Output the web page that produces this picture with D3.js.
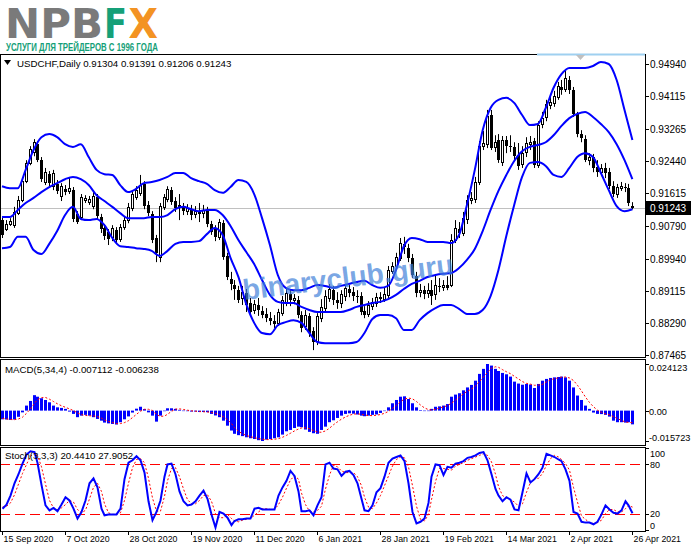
<!DOCTYPE html>
<html><head><meta charset="utf-8">
<script src="https://cdn.jsdelivr.net/npm/d3@7"></script>
<style>html,body{margin:0;padding:0;background:#fff;} svg{display:block;font-family:'Liberation Sans',Arial,sans-serif;}</style>
</head><body><svg id="c" width="691" height="549"></svg>
<script>
// ---------------- DATA ----------------
const symbolTitle = "USDCHF,Daily";
const lastQuote = [0.91304, 0.91391, 0.91206, 0.91243];
const dateLabels = ["15 Sep 2020","7 Oct 2020","28 Oct 2020","19 Nov 2020","11 Dec 2020","6 Jan 2021","28 Jan 2021","19 Feb 2021","14 Mar 2021","2 Apr 2021","26 Apr 2021"];
const dateBars = [0,16,32,48,64,80,96,112,128,144,160];
const priceTicks = [0.94940,0.94115,0.93265,0.92440,0.91615,0.90790,0.89940,0.89115,0.88290,0.87465];
const macdTicks = [0.024123, 0.00, -0.015723];
const stochTicks = [100, 80, 20, 0];
const stochLevels = [80, 20];

// daily candles [open, high, low, close]
const ohlc = [
[.9093,.9101,.9047,.9055],[.9070,.9093,.9065,.9083],[.9083,.9098,.9078,.9091],[.9080,.9127,.9073,.9114],[.9111,.9155,.9106,.9145],
[.9145,.9201,.9139,.9193],[.9193,.9247,.9188,.9240],[.9240,.9283,.9234,.9275],[.9268,.9301,.9257,.9293],[.9288,.9296,.9242,.9247],
[.9247,.9255,.9191,.9198],[.9191,.9227,.9183,.9216],[.9211,.9219,.9180,.9188],[.9180,.9222,.9170,.9214],[.9186,.9196,.9160,.9168],
[.9155,.9188,.9142,.9180],[.9173,.9183,.9157,.9165],[.9168,.9201,.9160,.9175],[.9170,.9178,.9088,.9096],[.9109,.9116,.9083,.9088],
[.9101,.9160,.9093,.9152],[.9145,.9157,.9137,.9150],[.9139,.9155,.9132,.9147],[.9129,.9165,.9121,.9155],[.9152,.9160,.9096,.9103],
[.9101,.9109,.9060,.9070],[.9073,.9080,.9042,.9052],[.9062,.9070,.9029,.9044],[.9050,.9080,.9039,.9073],[.9068,.9075,.9032,.9042],
[.9044,.9083,.9037,.9075],[.9075,.9103,.9068,.9093],[.9093,.9137,.9085,.9127],[.9124,.9170,.9116,.9160],[.9152,.9180,.9145,.9170],
[.9163,.9209,.9155,.9183],[.9186,.9193,.9121,.9129],[.9132,.9142,.9103,.9111],[.9109,.9116,.9034,.9042],[.9047,.9055,.8985,.9009],
[.8998,.9137,.8985,.9129],[.9127,.9160,.9119,.9152],[.9147,.9180,.9139,.9173],[.9170,.9178,.9132,.9139],[.9142,.9152,.9114,.9124],
[.9132,.9160,.9093,.9124],[.9127,.9137,.9106,.9116],[.9116,.9134,.9106,.9124],[.9121,.9132,.9093,.9106],[.9109,.9129,.9098,.9116],
[.9116,.9137,.9088,.9109],[.9111,.9132,.9098,.9119],[.9119,.9127,.9075,.9083],[.9083,.9091,.9055,.9062],[.9070,.9080,.9039,.9050],
[.9050,.9096,.9042,.9088],[.9085,.9093,.8991,.8998],[.9001,.9009,.8939,.8947],[.8942,.8960,.8913,.8929],[.8926,.8939,.8888,.8916],
[.8913,.8924,.8880,.8888],[.8893,.8924,.8875,.8908],[.8906,.8916,.8857,.8875],[.8880,.8893,.8849,.8857],[.8862,.8888,.8852,.8877],
[.8875,.8893,.8847,.8862],[.8859,.8872,.8841,.8849],[.8852,.8867,.8831,.8841],[.8841,.8857,.8823,.8834],[.8834,.8849,.8816,.8826],
[.8829,.8865,.8821,.8857],[.8854,.8898,.8847,.8888],[.8883,.8916,.8872,.8906],[.8903,.8913,.8872,.8888],[.8888,.8903,.8877,.8893],
[.8888,.8898,.8841,.8849],[.8849,.8859,.8805,.8816],[.8821,.8862,.8811,.8849],[.8847,.8854,.8793,.8803],[.8808,.8818,.8759,.8780],
[.8782,.8854,.8772,.8847],[.8841,.8890,.8831,.8870],[.8867,.8913,.8857,.8898],[.8893,.8929,.8883,.8916],[.8913,.8924,.8875,.8888],
[.8888,.8908,.8865,.8880],[.8880,.8913,.8867,.8903],[.8898,.8929,.8885,.8919],[.8916,.8926,.8895,.8906],[.8908,.8921,.8885,.8898],
[.8898,.8913,.8880,.8895],[.8898,.8908,.8849,.8857],[.8859,.8872,.8841,.8849],[.8852,.8885,.8844,.8875],[.8872,.8893,.8862,.8883],
[.8880,.8906,.8870,.8895],[.8895,.8908,.8880,.8890],[.8890,.8919,.8883,.8903],[.8901,.8975,.8893,.8965],[.8962,.8985,.8955,.8975],
[.8975,.9009,.8965,.8998],[.8996,.9047,.8988,.9034],[.9032,.9050,.9006,.9024],[.9021,.9032,.8985,.8996],[.8996,.9006,.8944,.8952],
[.8949,.8960,.8895,.8906],[.8908,.8929,.8895,.8913],[.8913,.8924,.8890,.8903],[.8906,.8931,.8893,.8913],[.8913,.8939,.8875,.8898],
[.8903,.8952,.8888,.8926],[.8924,.8944,.8908,.8921],[.8921,.8939,.8911,.8926],[.8926,.8949,.8913,.8919],[.8926,.9057,.8921,.9042],
[.9042,.9093,.9034,.9073],[.9070,.9088,.9047,.9060],[.9060,.9114,.9052,.9098],[.9096,.9157,.9083,.9145],[.9145,.9165,.9134,.9150],
[.9147,.9204,.9137,.9191],[.9191,.9296,.9183,.9283],[.9283,.9322,.9273,.9291],[.9288,.9376,.9278,.9360],[.9363,.9376,.9273,.9278],
[.9281,.9311,.9268,.9293],[.9299,.9314,.9240,.9247],[.9242,.9309,.9232,.9299],[.9299,.9309,.9265,.9283],[.9283,.9311,.9268,.9281],
[.9281,.9293,.9247,.9257],[.9260,.9291,.9222,.9232],[.9237,.9283,.9227,.9265],[.9268,.9306,.9255,.9291],[.9288,.9309,.9273,.9293],
[.9296,.9304,.9227,.9234],[.9234,.9347,.9227,.9337],[.9340,.9371,.9329,.9355],[.9358,.9402,.9347,.9391],[.9389,.9409,.9378,.9396],
[.9394,.9425,.9384,.9412],[.9409,.9448,.9402,.9438],[.9435,.9453,.9415,.9427],[.9430,.9476,.9422,.9458],[.9453,.9463,.9417,.9427],
[.9427,.9435,.9358,.9366],[.9366,.9371,.9306,.9314],[.9314,.9324,.9293,.9304],[.9301,.9311,.9242,.9247],[.9247,.9265,.9234,.9255],
[.9255,.9263,.9216,.9227],[.9229,.9247,.9204,.9216],[.9216,.9237,.9206,.9227],[.9227,.9240,.9201,.9214],[.9216,.9227,.9173,.9180],
[.9180,.9193,.9152,.9160],[.9160,.9186,.9150,.9178],[.9175,.9191,.9168,.9180],[.9178,.9188,.9165,.9175],[.9175,.9186,.9129,.9137],
[.91304,.91391,.91206,.91243]
];

// Bollinger bands, read every 2nd bar
const bandStep = 2;
const bbUpper = [.9180,.9175,.9175,.9222,.9273,.9306,.9314,.9306,.9288,.9281,
.9288,.9255,.9222,.9211,.9209,.9183,.9165,.9173,.9188,.9191,
.9196,.9204,.9214,.9214,.9201,.9193,.9186,.9170,.9163,.9178,
.9196,.9191,.9160,.9098,.9029,.8952,.8919,.8913,.8913,.8919,
.8926,.8924,.8919,.8924,.8929,.8934,.8937,.8926,.8919,.8924,
.8965,.9026,.9047,.9044,.9037,.9037,.9037,.9034,.9055,.9132,
.9222,.9324,.9381,.9402,.9407,.9394,.9363,.9337,.9340,.9381,
.9433,.9468,.9484,.9484,.9484,.9489,.9499,.9494,.9453,.9376,
.9299];
const bbMiddle = [.9101,.9101,.9119,.9137,.9150,.9165,.9178,.9188,.9198,.9204,
.9198,.9183,.9157,.9142,.9127,.9111,.9098,.9098,.9098,.9101,
.9101,.9106,.9121,.9127,.9121,.9116,.9119,.9119,.9106,.9078,
.9042,.9011,.8980,.8939,.8901,.8883,.8880,.8880,.8870,.8862,
.8857,.8857,.8857,.8857,.8862,.8870,.8875,.8880,.8883,.8890,
.8901,.8916,.8929,.8937,.8947,.8952,.8955,.8957,.8970,.8991,
.9019,.9065,.9119,.9168,.9209,.9245,.9270,.9281,.9286,.9293,
.9311,.9335,.9355,.9366,.9371,.9358,.9340,.9319,.9288,.9247,
.9198];
const bbLower = [.9021,.9024,.9050,.9050,.9016,.9006,.9032,.9065,.9106,.9127,
.9096,.9093,.9096,.9080,.9047,.9026,.9024,.9021,.9019,.9014,
.9001,.9014,.9032,.9037,.9037,.9039,.9057,.9073,.9055,.8996,
.8947,.8877,.8829,.8803,.8800,.8823,.8831,.8836,.8829,.8803,
.8780,.8777,.8777,.8777,.8777,.8780,.8803,.8839,.8849,.8849,
.8841,.8811,.8811,.8836,.8854,.8867,.8875,.8875,.8865,.8852,
.8852,.8862,.8898,.8965,.9052,.9132,.9204,.9240,.9242,.9232,
.9209,.9204,.9227,.9255,.9265,.9255,.9214,.9170,.9129,.9116,
.9121];

// MACD(5,34,4)
const macdMain = [-.0045,-.0046,-.0048,-.0046,-.0032,-.0009,.0026,.0050,.0080,.0072,
.0064,.0055,.0043,.0026,.0017,.0014,.0009,-.0005,-.0017,-.0034,
-.0026,-.0022,-.0026,-.0034,-.0043,-.0052,-.0062,-.0066,-.0069,-.0072,
-.0060,-.0045,-.0030,-.0010,.0010,.0020,.0008,-.0009,-.0026,-.0057,
-.0026,-.0003,.0012,.0012,.0009,.0004,.0000,-.0003,-.0005,-.0005,
-.0007,-.0007,-.0008,-.0017,-.0025,-.0034,-.0052,-.0078,-.0103,-.0120,
-.0127,-.0132,-.0138,-.0143,-.0147,-.0153,-.015723,-.0150,-.0147,-.0143,
-.0138,-.0124,-.0107,-.0100,-.0090,-.0083,-.0086,-.0098,-.0110,-.0117,
-.0120,-.0100,-.0083,-.0060,-.0050,-.0038,-.0026,-.0017,-.0014,-.0016,
-.0020,-.0026,-.0029,-.0026,-.0022,-.0020,-.0012,.0000,.0017,.0038,
.0055,.0072,.0074,.0060,.0038,.0017,.0003,.0000,.0000,.0009,
.0020,.0022,.0026,.0034,.0072,.0083,.0090,.0105,.0120,.0133,
.0155,.0190,.0216,.024123,.0233,.0216,.0205,.0195,.0188,.0176,
.0150,.0140,.0134,.0138,.0135,.0117,.0138,.0155,.0164,.0169,
.0172,.0174,.0176,.0172,.0155,.0120,.0078,.0055,.0026,.0009,
-.0010,-.0017,-.0018,-.0022,-.0031,-.0052,-.0060,-.0060,-.0062,-.0060,
-.007112];
const macdSignal = [-.0040,-.0043,-.0046,-.0047,-.0043,-.0034,-.0014,.0009,.0037,.0057,
.0067,.0068,.0059,.0047,.0035,.0025,.0017,.0009,.0000,-.0012,
-.0021,-.0025,-.0027,-.0027,-.0031,-.0039,-.0048,-.0056,-.0062,-.0067,
-.0067,-.0062,-.0052,-.0036,-.0019,-.0003,.0007,.0007,.0001,-.0021,
-.0030,-.0028,-.0019,-.0004,.0008,.0009,.0006,.0002,-.0001,-.0003,
-.0005,-.0006,-.0007,-.0010,-.0014,-.0021,-.0032,-.0047,-.0067,-.0088,
-.0107,-.0120,-.0129,-.0135,-.0140,-.0145,-.0148,-.0150,-.0150,-.0148,
-.0145,-.0138,-.0128,-.0117,-.0105,-.0095,-.0090,-.0089,-.0094,-.0103,
-.0111,-.0112,-.0105,-.0091,-.0073,-.0058,-.0044,-.0033,-.0024,-.0018,
-.0017,-.0019,-.0023,-.0025,-.0026,-.0024,-.0020,-.0014,-.0004,.0011,
.0028,.0046,.0060,.0065,.0061,.0047,.0029,.0014,.0005,.0003,
.0007,.0013,.0019,.0026,.0039,.0054,.0070,.0088,.0100,.0112,
.0128,.0150,.0174,.0198,.0220,.0227,.0224,.0212,.0201,.0191,
.0177,.0164,.0150,.0141,.0137,.0131,.0132,.0136,.0149,.0160,
.0165,.0170,.0173,.0174,.0169,.0156,.0131,.0102,.0070,.0042,
.0020,.0002,-.0009,-.0017,-.0022,-.0031,-.0041,-.0051,-.0059,-.0061,
-.006238];

// Stochastic(3,3,3)
const stochMain = [26,31,42,57,68,81,92,96,95,82,
55,30,24,27,23,31,40,36,26,14,
22,36,57,63,52,26,18,19,19,19,
26,62,82,85,90,85,70,35,12,22,
36,65,80,81,68,47,35,30,31,35,
42,48,38,19,3,22,20,15,6,11,
13,13,14,14,26,27,25,25,25,25,
42,52,60,72,66,47,23,23,24,18,
30,40,80,82,75,74,66,71,72,67,
57,38,24,23,30,46,51,65,82,87,
89,91,84,57,22,8,10,14,33,65,
80,79,67,77,76,81,82,84,88,89,
91,94,95,85,68,50,42,35,40,37,
25,24,46,69,58,62,68,76,93,91,
89,86,84,74,60,22,20,10,9,9,
7,10,19,30,25,21,20,24,35,30,
20.441];
const stochSignal = [28,29,33,43,56,69,80,90,94,91,
77,56,36,27,25,27,31,36,34,25,
21,24,38,52,57,47,32,21,19,19,
21,36,57,76,86,87,82,63,39,23,
23,41,60,75,76,65,50,37,32,32,
36,42,43,35,20,15,15,19,14,11,
10,12,13,14,18,22,26,26,25,25,
31,40,51,61,66,62,45,31,23,22,
24,29,50,67,79,77,72,70,70,70,
65,54,40,28,26,33,42,54,66,78,
86,89,88,77,54,29,13,11,19,37,
59,75,75,74,73,78,80,82,85,87,
89,91,93,91,83,68,53,42,39,37,
34,29,32,46,58,63,63,69,79,87,
91,89,86,81,73,52,34,17,13,9,
8,9,12,20,25,25,22,22,26,30,
27.9052];

// ---------------- DRAW ----------------
const svg = d3.select('#c');
const RIGHT = 645;
const panels = {main:[54,357], macd:[359,445], st:[447,531]};
const AXFONT = 10, DATEFONT = 8.8, HEADFONT = 9.7;

const x = d3.scaleLinear().domain([0, ohlc.length - 1]).range([2, 632.4]);
const y = d3.scaleLinear().domain([0.87465, 0.94940]).range([355, 64]);
const ym = d3.scaleLinear().domain([-0.015723, 0.024123]).range([441, 364]);
const ys = d3.scaleLinear().domain([0, 100]).range([530, 448]);
const cx = i => Math.round(x(i)) + 0.5;

const defs = svg.append('defs');
Object.entries(panels).forEach(([k,[t,b]]) => {
  defs.append('clipPath').attr('id','clip-'+k).append('rect')
    .attr('x',1).attr('y',t+1).attr('width',RIGHT-1).attr('height',b-t-1);
});

// ----- logo
const logo = svg.append('g').attr('font-family',"'DejaVu Sans','Liberation Sans',Arial,sans-serif").attr('font-weight','bold');
logo.append('text').attr('x',5).attr('y',38).attr('font-size',41).attr('fill','#7a7a7a')
  .attr('textLength',98).attr('lengthAdjust','spacingAndGlyphs').text('NPB');
logo.append('text').attr('x',104).attr('y',38).attr('font-size',41).attr('fill','#15a078')
  .attr('textLength',23).attr('lengthAdjust','spacingAndGlyphs').text('F');
logo.append('text').attr('x',128.5).attr('y',38).attr('font-size',41).attr('fill','#f39323')
  .attr('textLength',29.5).attr('lengthAdjust','spacingAndGlyphs').text('X');
svg.append('text').attr('x',6).attr('y',50.5).attr('font-size',10).attr('font-weight','bold')
  .attr('fill','#15a078').attr('textLength',152).attr('lengthAdjust','spacingAndGlyphs')
  .text('УСЛУГИ ДЛЯ ТРЕЙДЕРОВ С 1996 ГОДА');

// ----- panel frames
Object.values(panels).forEach(([t,b]) => {
  svg.append('rect').attr('x',0.5).attr('y',t+0.5).attr('width',RIGHT).attr('height',b-t)
    .attr('fill','none').attr('stroke','#000').attr('stroke-width',1);
});
// scroll indicator + shift marker at top
svg.append('line').attr('x1',537).attr('x2',RIGHT).attr('y1',54.5).attr('y2',54.5)
  .attr('stroke','#9fd0f0').attr('stroke-width',2);
svg.append('path').attr('d','M576,55 L585,55 L580.5,60 Z').attr('fill','#c0c0c0');

// ----- main panel
const gMain = svg.append('g').attr('clip-path','url(#clip-main)');
gMain.append('line').attr('x1',0).attr('x2',RIGHT).attr('y1',Math.round(y(lastQuote[3]))+0.5)
  .attr('y2',Math.round(y(lastQuote[3]))+0.5).attr('stroke','#c0c0c0');

// watermark
svg.append('text').attr('x',0).attr('y',0)
  .attr('transform','translate(244,300) rotate(-7)')
  .attr('font-family',"'Liberation Sans',Arial,sans-serif").attr('font-weight','bold')
  .attr('font-size',29).attr('fill','#3f7fd8').attr('fill-opacity',0.7)
  .attr('textLength',212).attr('lengthAdjust','spacingAndGlyphs').text('binaryclub.guru');

// candles
const candles = gMain.append('g');
ohlc.forEach((d,i) => {
  const [o,h,l,c] = d, X = cx(i);
  candles.append('line').attr('x1',X).attr('x2',X).attr('y1',y(h)).attr('y2',y(l))
    .attr('stroke','#000').attr('stroke-width',1);
  const top = Math.round(y(Math.max(o,c))), bot = Math.round(y(Math.min(o,c)));
  if (c >= o) {
    candles.append('rect').attr('x',X-1).attr('y',top+0.5).attr('width',2)
      .attr('height',Math.max(bot-top,1)).attr('fill','#fff').attr('stroke','#000').attr('stroke-width',1);
  } else {
    candles.append('rect').attr('x',X-1.5).attr('y',top).attr('width',3)
      .attr('height',Math.max(bot-top,1)).attr('fill','#000');
  }
});

// Bollinger bands
const bandLine = d3.line().x((d,k) => x(k*bandStep)).y(d => y(d)).curve(d3.curveMonotoneX);
[bbUpper, bbMiddle, bbLower].forEach(arr => {
  gMain.append('path').attr('d', bandLine(arr)).attr('fill','none')
    .attr('stroke','#0000ff').attr('stroke-width',2);
});

// header
svg.append('path').attr('d','M4,60 L11,60 L7.5,65 Z').attr('fill','#000');
svg.append('text').attr('x',17).attr('y',66.5).attr('font-size',HEADFONT).attr('fill','#000')
  .text(symbolTitle + '  ' + lastQuote.map(v => v.toFixed(5)).join(' '));

// price axis
const axR = svg.append('g').attr('font-size',AXFONT).attr('fill','#000');
priceTicks.forEach(p => {
  const Y = Math.round(y(p)) + 0.5;
  axR.append('line').attr('x1',RIGHT+0.5).attr('x2',RIGHT+4).attr('y1',Y).attr('y2',Y).attr('stroke','#000');
  axR.append('text').attr('x',650).attr('y',Y).attr('dy','0.35em').text(p.toFixed(5));
});
const lastY = Math.round(y(lastQuote[3]));
axR.append('rect').attr('x',646).attr('y',lastY-7).attr('width',45).attr('height',14).attr('fill','#000');
axR.append('text').attr('x',650).attr('y',lastY+0.5).attr('dy','0.35em').attr('fill','#fff').text(lastQuote[3].toFixed(5));

// ----- MACD panel
const gMacd = svg.append('g').attr('clip-path','url(#clip-macd)');
macdMain.forEach((v,i) => {
  const y0 = ym(0), y1 = ym(v);
  gMacd.append('rect').attr('x',cx(i)-1.5).attr('width',3)
    .attr('y',Math.min(y0,y1)).attr('height',Math.max(Math.abs(y1-y0),0.5)).attr('fill','#0000ff');
});
gMacd.append('path').attr('d', d3.line().x((d,i)=>cx(i)).y(d=>ym(d))(macdSignal))
  .attr('fill','none').attr('stroke','#ff0000').attr('stroke-width',1).attr('stroke-dasharray','2,2');
svg.append('text').attr('x',5).attr('y',372.5).attr('font-size',HEADFONT).attr('fill','#000')
  .text('MACD(5,34,4) ' + macdMain[macdMain.length-1].toFixed(6) + ' ' + macdSignal[macdSignal.length-1].toFixed(6));
const macdOffset = [3, 0, -4];
macdTicks.forEach((v,k) => {
  const Y = Math.round(ym(v)) + 0.5;
  axR.append('line').attr('x1',RIGHT+0.5).attr('x2',RIGHT+4).attr('y1',Y).attr('y2',Y).attr('stroke','#000');
  axR.append('text').attr('x',649).attr('y',Y + macdOffset[k]).attr('dy','0.35em').attr('font-size',9.2)
    .text(v === 0 ? '0.00' : v.toFixed(6));
});

// ----- Stochastic panel
const gSt = svg.append('g').attr('clip-path','url(#clip-st)');
stochLevels.forEach(v => {
  gSt.append('line').attr('x1',0).attr('x2',RIGHT).attr('y1',Math.round(ys(v))+0.5).attr('y2',Math.round(ys(v))+0.5)
    .attr('stroke','#ff0000').attr('stroke-width',1).attr('stroke-dasharray','10,5');
});
gSt.append('path').attr('d', d3.line().x((d,i)=>cx(i)).y(d=>ys(d))(stochSignal))
  .attr('fill','none').attr('stroke','#ff0000').attr('stroke-width',1).attr('stroke-dasharray','2,2');
gSt.append('path').attr('d', d3.line().x((d,i)=>cx(i)).y(d=>ys(d))(stochMain))
  .attr('fill','none').attr('stroke','#0000ff').attr('stroke-width',2);
svg.append('text').attr('x',5).attr('y',459).attr('font-size',HEADFONT).attr('fill','#000')
  .text('Stoch(3,3,3) ' + stochMain[stochMain.length-1].toFixed(4) + ' ' + stochSignal[stochSignal.length-1].toFixed(4));
const stOffset = {100:5, 80:0, 20:-1, 0:-5};
stochTicks.forEach(v => {
  const Y = Math.round(ys(v)) + 0.5;
  axR.append('line').attr('x1',RIGHT+0.5).attr('x2',RIGHT+4).attr('y1',Y).attr('y2',Y).attr('stroke','#000');
  axR.append('text').attr('x',650).attr('y',Y + stOffset[v]).attr('dy','0.35em').attr('font-size',9).text(String(v));
});

// ----- time axis
const axB = svg.append('g').attr('font-size',DATEFONT).attr('fill','#000');
dateBars.forEach((b,k) => {
  const X = cx(b);
  axB.append('line').attr('x1',X).attr('x2',X).attr('y1',531).attr('y2',535).attr('stroke','#000');
  axB.append('text').attr('x',X+1).attr('y',542).text(dateLabels[k]);
});
</script></body></html>
